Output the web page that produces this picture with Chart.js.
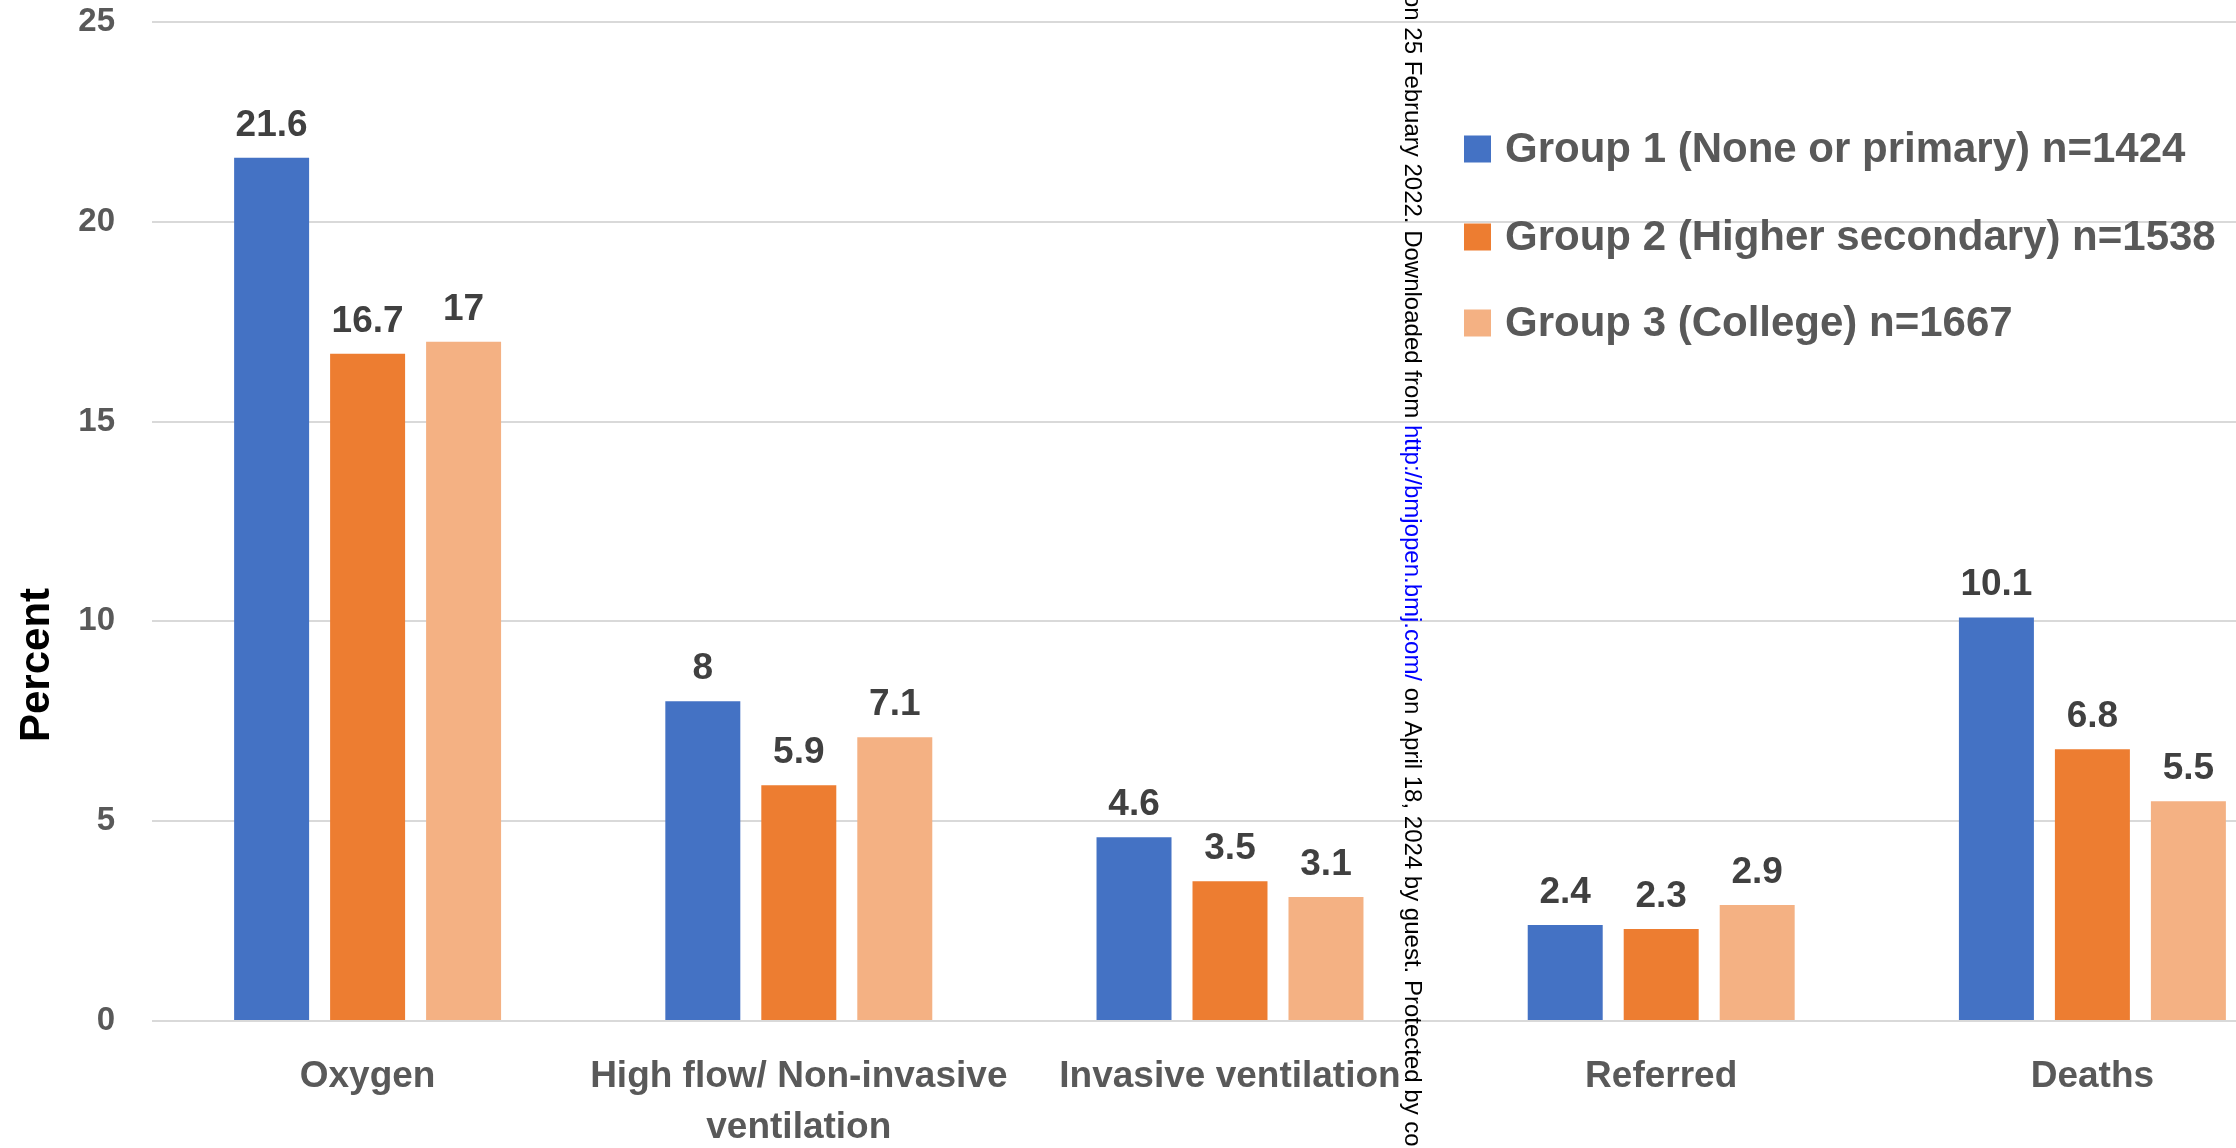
<!DOCTYPE html>
<html><head><meta charset="utf-8">
<script src="https://cdn.jsdelivr.net/npm/chart.js@4.4.0/dist/chart.umd.min.js"></script>
<style>
html,body{margin:0;padding:0;background:#fff;overflow:hidden;width:2236px;height:1148px;}
#wrap{position:absolute;left:0;top:0;width:2308px;height:1148px;}
</style></head><body>
<div id="wrap"><canvas id="c"></canvas></div>
<script>
const categories = [['Oxygen'], ['High flow/ Non-invasive', 'ventilation'], ['Invasive ventilation'], ['Referred'], ['Deaths']];
const seriesNames = ['Group 1 (None or primary) n=1424', 'Group 2 (Higher secondary) n=1538', 'Group 3 (College) n=1667'];
const group1 = [21.6, 8, 4.6, 2.4, 10.1];
const group2 = [16.7, 5.9, 3.5, 2.3, 6.8];
const group3 = [17, 7.1, 3.1, 2.9, 5.5];
const yTickValues = [0, 5, 10, 15, 20, 25];
const yAxisTitle = 'Percent';
const watermarkParts = [
  ['on 25 February 2022. Downloaded from ', '#000000'],
  ['http://bmjopen.bmj.com/', '#0000FF'],
  [' on April 18, 2024 by guest. Protected by copyright.', '#000000']
];
const colors = ['#4472C4', '#ED7D31', '#F4B183'];

const FONT = '"Liberation Sans", Arial, sans-serif';

const dataLabels = {
  id: 'dataLabels',
  afterDatasetsDraw(chart) {
    const ctx = chart.ctx;
    ctx.save();
    ctx.font = 'bold 37px ' + FONT;
    ctx.fillStyle = '#404040';
    ctx.textAlign = 'center';
    ctx.textBaseline = 'alphabetic';
    chart.data.datasets.forEach((ds, i) => {
      const meta = chart.getDatasetMeta(i);
      meta.data.forEach((el, j) => {
        ctx.fillText(String(ds.data[j]), el.x, el.y - 22);
      });
    });
    ctx.restore();
  }
};

const customLegend = {
  id: 'customLegend',
  afterDatasetsDraw(chart) {
    const ctx = chart.ctx;
    ctx.save();
    ctx.font = 'bold 42px ' + FONT;
    ctx.textAlign = 'left';
    ctx.textBaseline = 'middle';
    const rows = [149, 237, 323];
    chart.data.datasets.forEach((ds, i) => {
      const y = rows[i];
      ctx.fillStyle = ds.backgroundColor;
      ctx.fillRect(1464, y - 13.5, 27, 27);
      ctx.fillStyle = '#595959';
      ctx.fillText(ds.label, 1505, y + 1);
    });
    ctx.restore();
  }
};

const axisTitle = {
  id: 'axisTitle',
  afterDraw(chart) {
    const ctx = chart.ctx;
    ctx.save();
    ctx.translate(37, 665);
    ctx.rotate(-Math.PI / 2);
    ctx.font = 'bold 42px ' + FONT;
    ctx.fillStyle = '#000000';
    ctx.textAlign = 'center';
    ctx.textBaseline = 'middle';
    ctx.fillText(yAxisTitle, 0, 0);
    ctx.restore();
  }
};

const watermark = {
  id: 'watermark',
  afterDraw(chart) {
    const ctx = chart.ctx;
    ctx.save();
    ctx.translate(1412, -6);
    ctx.rotate(Math.PI / 2);
    ctx.font = '24px "Liberation Sans", Arial, sans-serif';
    ctx.textAlign = 'left';
    ctx.textBaseline = 'middle';
    let x = 0;
    watermarkParts.forEach(([t, c]) => {
      ctx.fillStyle = c;
      ctx.fillText(t, x, 0);
      x += ctx.measureText(t).width;
    });
    ctx.restore();
  }
};

new Chart(document.getElementById('c'), {
  type: 'bar',
  data: {
    labels: categories,
    datasets: [
      { label: seriesNames[0], data: group1, backgroundColor: colors[0] },
      { label: seriesNames[1], data: group2, backgroundColor: colors[1] },
      { label: seriesNames[2], data: group3, backgroundColor: colors[2] }
    ]
  },
  options: {
    responsive: true,
    maintainAspectRatio: false,
    animation: false,
    devicePixelRatio: 1,
    layout: { padding: { top: 22, left: 0, right: 0, bottom: 0 } },
    datasets: { bar: { categoryPercentage: 0.6678, barPercentage: 0.78125 } },
    plugins: {
      legend: { display: false },
      tooltip: { enabled: false }
    },
    scales: {
      x: {
        grid: { display: false, drawTicks: false },
        border: { display: false },
        ticks: {
          color: '#595959',
          font: { family: FONT, size: 37, weight: 'bold', lineHeight: 1.36 },
          padding: 31,
          maxRotation: 0,
          autoSkip: false
        },
        afterFit(s) { s.height = 127; s.paddingLeft = 0; s.paddingRight = 0; }
      },
      y: {
        min: 0,
        max: 25,
        afterBuildTicks(s) { s.ticks = yTickValues.map(v => ({ value: v })); },
        grid: { color: '#D9D9D9', lineWidth: 2, drawTicks: false },
        border: { display: false },
        ticks: {
          color: '#595959',
          font: { family: FONT, size: 33, weight: 'bold' },
          padding: 37
        },
        afterFit(s) { s.width = 152; s.paddingTop = 0; s.paddingBottom = 0; }
      }
    }
  },
  plugins: [dataLabels, customLegend, axisTitle, watermark]
});
</script>
</body></html>
